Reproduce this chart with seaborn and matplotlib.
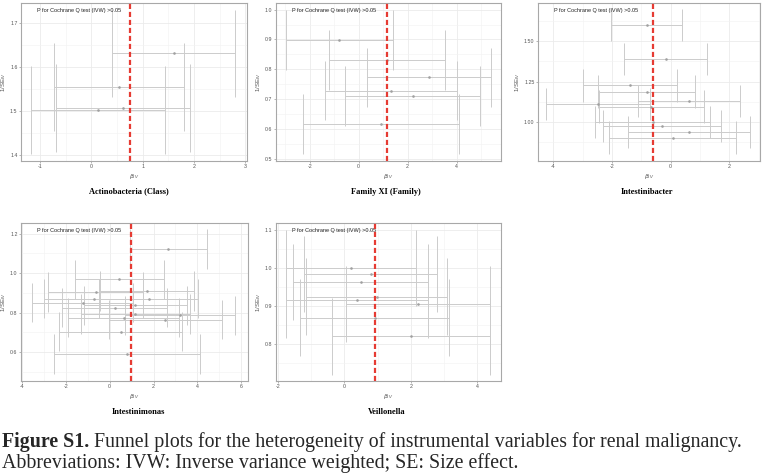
"""
Funnel plots (Figure S1) for renal malignancy instruments.
"""
import matplotlib
matplotlib.use("Agg")
import matplotlib.pyplot as plt
import seaborn as sns
import pandas as pd
import numpy as np
from matplotlib.ticker import MultipleLocator, AutoMinorLocator, FormatStrFormatter

# Panel titles
titles = ["Actinobacteria (Class)", "Family XI (Family)", "Intestinibacter",
          "Intestinimonas", "Veillonella"]

# SNP effects (beta_IV) and precision (1/SE_IV) per exposure, plus IVW estimate
actino_beta = [1.60, 0.54, 0.12, 0.62]
actino_inv_se = [1.631, 1.555, 1.503, 1.507]
actino_ivw = 0.76

family_xi_beta = [-0.79, 1.16, 2.88, 1.32, 2.20, 0.91]
family_xi_inv_se = [0.898, 0.831, 0.773, 0.729, 0.711, 0.617]
family_xi_ivw = 1.15

intestinibacter_beta = [-0.82, -0.17, -1.38, -0.82, 0.63, -2.47, -0.66, -0.61, -0.30, 0.63, 0.07]
intestinibacter_inv_se = [1.597, 1.389, 1.227, 1.188, 1.130, 1.112, 1.095, 1.000, 0.977, 0.940, 0.905]
intestinibacter_ivw = -0.61

intestinimonas_beta = [2.68, 0.45, -0.63, -0.71, -1.23, 0.23, 0.65, 0.50, 0.80,
                       1.70, 1.78, 1.17, 1.17, 2.53, 3.21]
intestinimonas_inv_se = [1.123, 0.969, 0.904, 0.870, 0.850, 0.824, 0.774, 0.703, 0.590,
                         0.909, 0.870, 0.836, 0.793, 0.764, 0.785]
intestinimonas_ivw = 0.99

veillonella_beta = [0.20, 0.79, 0.49, 0.97, 0.39, 2.22, 0.91, 2.00]
veillonella_inv_se = [1.000, 0.984, 0.964, 0.925, 0.917, 0.905, 0.870, 0.821]
veillonella_ivw = 0.93

# axis ranges, tick steps and y label format per panel
x_ranges = [(-1.37, 3.03), (-3.37, 5.81), (-4.52, 3.05), (-4.03, 6.3), (-2.06, 4.72)]
y_ranges = [(1.386, 1.746), (0.493, 1.022), (0.761, 1.733), (0.452, 1.255), (0.704, 1.118)]
x_steps = [1, 2, 2, 2, 2]
y_steps = [0.1, 0.1, 0.25, 0.2, 0.1]
y_formats = ["%.1f", "%.1f", "%.2f", "%.1f", "%.1f"]

annot_text = "P for Cochrane Q test (IVW) >0.05"
caption_bold = "Figure S1."
caption_rest = " Funnel plots for the heterogeneity of instrumental variables for renal malignancy."
caption_line2 = "Abbreviations: IVW: Inverse variance weighted; SE: Size effect."

panels = [
    (actino_beta, actino_inv_se, actino_ivw),
    (family_xi_beta, family_xi_inv_se, family_xi_ivw),
    (intestinibacter_beta, intestinibacter_inv_se, intestinibacter_ivw),
    (intestinimonas_beta, intestinimonas_inv_se, intestinimonas_ivw),
    (veillonella_beta, veillonella_inv_se, veillonella_ivw),
]

sns.set_theme(style="whitegrid")
plt.rcParams['font.family'] = ['Liberation Sans', 'DejaVu Sans']

W, H = 763, 475
fig = plt.figure(figsize=(W / 100, H / 100), dpi=100)

# axes boxes in pixels: left, top, right, bottom
boxes = [(21, 3, 247, 161), (276, 3, 501, 161), (538, 3, 760, 161),
         (21, 223, 248, 381), (276, 223, 501, 381)]
# small horizontal shift of each panel caption (pixels)
title_shift = [-5, -3, -2, 4, -2]

for i, ((beta, inv_se, ivw), box) in enumerate(zip(panels, boxes)):
    l, t, r, b = box
    ax = fig.add_axes([l / W, 1 - b / H, (r - l) / W, (b - t) / H])
    df = pd.DataFrame({'beta': beta, 'inv_se': inv_se})
    half = 1.96 / df['inv_se']
    df['lo'] = df['beta'] - half
    df['hi'] = df['beta'] + half

    grey = '#cccccc'
    ax.hlines(df['inv_se'], df['lo'], df['hi'], color=grey, lw=0.7, zorder=2)
    ax.vlines(df['lo'], df['inv_se'] - 0.1, df['inv_se'] + 0.1, color=grey, lw=0.7, zorder=2)
    ax.vlines(df['hi'], df['inv_se'] - 0.1, df['inv_se'] + 0.1, color=grey, lw=0.7, zorder=2)
    sns.scatterplot(data=df, x='beta', y='inv_se', ax=ax, color='#a0a0a0',
                    s=3.5, linewidth=0, zorder=3)
    ax.axvline(ivw, color='#e63b33', lw=1.6, ls=(0, (2.3, 1.3)), zorder=4)

    ax.set_xlim(*x_ranges[i])
    ax.set_ylim(*y_ranges[i])
    ax.xaxis.set_major_locator(MultipleLocator(x_steps[i]))
    ax.yaxis.set_major_locator(MultipleLocator(y_steps[i]))
    ax.xaxis.set_minor_locator(AutoMinorLocator(2))
    ax.yaxis.set_minor_locator(AutoMinorLocator(2))
    ax.xaxis.set_major_formatter(FormatStrFormatter('%d'))
    ax.yaxis.set_major_formatter(FormatStrFormatter(y_formats[i]))
    ax.grid(which='major', color='#ebebeb', lw=0.6)
    ax.grid(which='minor', color='#f2f2f2', lw=0.4)
    ax.set_facecolor('white')
    for sp in ax.spines.values():
        sp.set_color('#a8a8a8')
        sp.set_linewidth(0.8)
    ax.tick_params(which='major', length=1.5, width=0.5, color='#999999',
                   labelsize=3.8, labelcolor='#555555', pad=1, bottom=True, left=True)
    ax.tick_params(which='minor', length=0)

    ax.set_xlabel(r"$\beta_{IV}$", fontsize=4.4, color='#555555', labelpad=1.5)
    ax.set_ylabel(r"1/SE$_{IV}$", fontsize=4.4, color='#555555', labelpad=1.5)

    ax.annotate(annot_text, xy=(0, 1), xycoords='axes fraction', xytext=(11.5, -5.5),
                textcoords='offset points', ha='left', va='center', fontsize=4.0,
                color='#222222')

    ax.annotate(titles[i], xy=(0.5, 0), xycoords='axes fraction',
                xytext=(title_shift[i] * 0.72, -22),
                textcoords='offset points', ha='center', va='center', fontsize=6.0,
                fontweight='bold', family='Liberation Serif', color='black')

# caption
y1 = 1 - 442 / H
t1 = fig.text(0.002, y1, caption_bold, fontsize=14.3, fontweight='bold',
              family='Liberation Serif', va='center')
fig.canvas.draw()
bb = t1.get_window_extent()
fig.text(bb.x1 / W, y1, caption_rest, fontsize=14.3, family='Liberation Serif', va='center')
fig.text(0.002, 1 - 463 / H, caption_line2, fontsize=14.3, family='Liberation Serif', va='center')

fig.savefig('out.png', dpi=100)
